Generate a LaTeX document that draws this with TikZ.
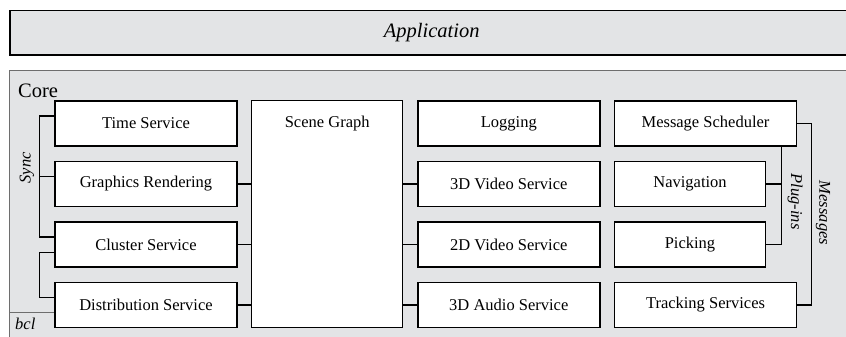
\documentclass[tikz,border=0pt]{standalone}
\usepackage{fontspec}
\setmainfont{Liberation Serif}
\usepackage{xcolor}
\definecolor{panelgray}{HTML}{E3E4E6}
\definecolor{framegray}{HTML}{6E6E6E}

\begin{document}
\begin{tikzpicture}[x=1pt,y=-1pt,
	svc/.style={draw,fill=white,line width=1.5pt,minimum width=182pt,minimum height=45pt,inner sep=0pt,font=\fontsize{16.5}{18}\selectfont},
	link/.style={line width=1.3pt},
	tag/.style={inner sep=0pt,font=\fontsize{16.5}{18}\selectfont\itshape}]
	\clip (0,0) rectangle (846,337);
	\node[draw,fill=panelgray,line width=1.5pt,anchor=north west,minimum width=843.4pt,minimum height=44.3pt,inner sep=0pt,font=\fontsize{20.5}{24}\selectfont\itshape] (app) at (9.3,10) {Application};
	\node[draw=framegray,fill=panelgray,line width=1pt,anchor=north west,minimum width=860pt,minimum height=300pt,inner sep=0pt] (core) at (9.3,70) {};
	\node[anchor=west,inner sep=0pt,font=\fontsize{20.5}{24}\selectfont] (corelbl) at (18,91.3) {Core};
	\node[svc] (time) at (146,123.5) {Time Service};
	\node[svc] (gfx) at (146,184) {Graphics Rendering};
	\node[svc] (cluster) at (146,244.5) {Cluster Service};
	\node[svc] (dist) at (146,305) {Distribution Service};
	\node[svc,minimum width=151pt,minimum height=227pt] (scene) at (327.2,214.2) {};
	\node[inner sep=0pt,font=\fontsize{16.5}{18}\selectfont] (scenelbl) at (327.2,123.5) {Scene Graph};
	\node[svc] (log) at (508.8,123.5) {Logging};
	\node[svc] (v3d) at (508.8,184) {3D Video Service};
	\node[svc] (v2d) at (508.8,244.5) {2D Video Service};
	\node[svc] (a3d) at (508.8,305) {3D Audio Service};
	\node[svc] (msg) at (705.5,123.5) {Message Scheduler};
	\node[svc,minimum width=151.4pt] (nav) at (690,184) {Navigation};
	\node[svc,minimum width=151.4pt] (pick) at (690,244.5) {Picking};
	\node[svc] (track) at (705.5,305) {Tracking Services};
	\draw[framegray,line width=1pt] (core.west |- 0,312.3) -- (dist.west |- 0,312.3);
	\node[tag,anchor=west] (bcllbl) at (15,323.5) {bcl};
	\draw[link] ([yshift=7.5pt]time.west) -- ++(-15,0) |- ([yshift=7.5pt]cluster.west);
	\draw[link] ([yshift=7.5pt]gfx.west) -- ++(-15,0);
	\draw[link] ([yshift=-8.2pt]cluster.west) -- ++(-15,0) |- ([yshift=7.7pt]dist.west);
	\node[tag,rotate=90] (synclbl) at (27,168) {Sync};
	\draw[link] (gfx.east) -- (gfx.east -| scene.west)
		(cluster.east) -- (cluster.east -| scene.west)
		(dist.east) -- (dist.east -| scene.west);
	\draw[link] (v3d.west) -- (v3d.west -| scene.east)
		(v2d.west) -- (v2d.west -| scene.east)
		(a3d.west) -- (a3d.west -| scene.east);
	\draw[link] (pick.east) -- ++(15,0) coordinate (plugbot) -- (plugbot |- msg.south);
	\draw[link] (nav.east) -- (nav.east -| plugbot);
	\node[tag,rotate=-90] (pluglbl) at (795,201.5) {Plug-ins};
	\draw[link] (msg.east) -- ++(14,0) |- (track.east);
	\node[tag,rotate=-90] (msglbl) at (823,213) {Messages};
\end{tikzpicture}
\end{document}
